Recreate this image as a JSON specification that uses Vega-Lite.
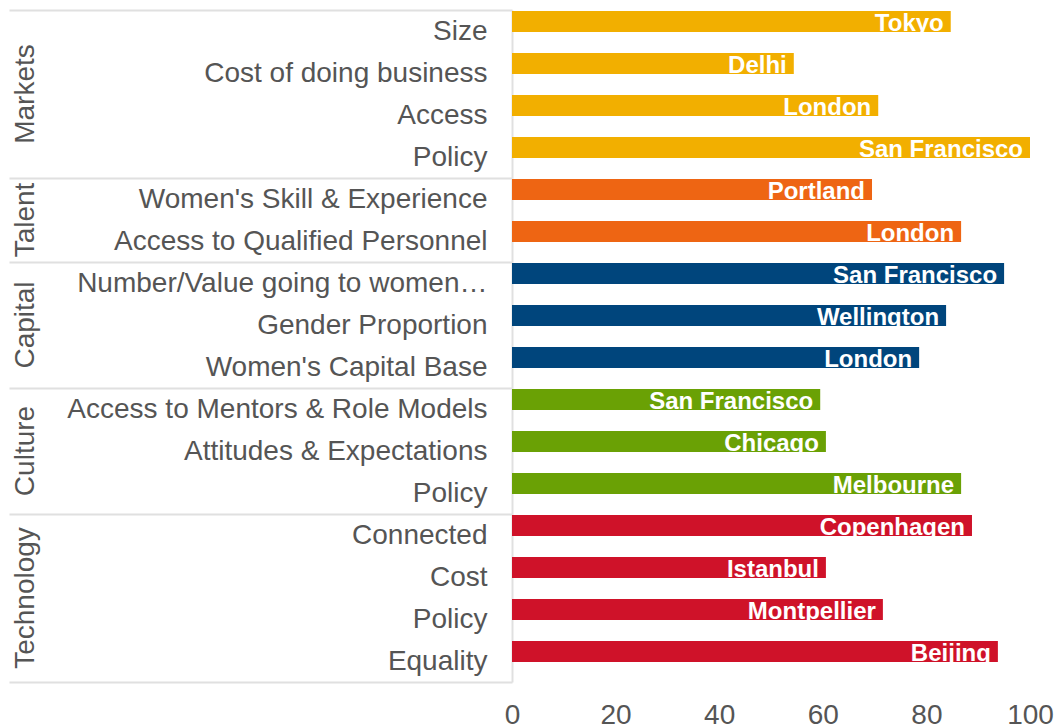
{
  "$schema": "https://vega.github.io/schema/vega-lite/v6.json",
  "padding": {"left": 8, "top": -4, "right": 0, "bottom": 0},
  "bounds": "flush",
  "data": {"values": [
    {"category": "Markets", "metric": "Size", "city": "Tokyo", "value": 84.7, "order": 1},
    {"category": "Markets", "metric": "Cost of doing business", "city": "Delhi", "value": 54.4, "order": 2},
    {"category": "Markets", "metric": "Access", "city": "London", "value": 70.7, "order": 3},
    {"category": "Markets", "metric": "Policy", "city": "San Francisco", "value": 100, "order": 4},
    {"category": "Talent", "metric": "Women's Skill & Experience", "city": "Portland", "value": 69.5, "order": 1},
    {"category": "Talent", "metric": "Access to Qualified Personnel", "city": "London", "value": 86.7, "order": 2},
    {"category": "Capital", "metric": "Number/Value going to women…", "city": "San Francisco", "value": 95.0, "order": 1},
    {"category": "Capital", "metric": "Gender Proportion", "city": "Wellington", "value": 83.8, "order": 2},
    {"category": "Capital", "metric": "Women's Capital Base", "city": "London", "value": 78.6, "order": 3},
    {"category": "Culture", "metric": "Access to Mentors & Role Models", "city": "San Francisco", "value": 59.5, "order": 1},
    {"category": "Culture", "metric": "Attitudes & Expectations", "city": "Chicago", "value": 60.6, "order": 2},
    {"category": "Culture", "metric": "Policy", "city": "Melbourne", "value": 86.7, "order": 3},
    {"category": "Technology", "metric": "Connected", "city": "Copenhagen", "value": 88.8, "order": 1},
    {"category": "Technology", "metric": "Cost", "city": "Istanbul", "value": 60.6, "order": 2},
    {"category": "Technology", "metric": "Policy", "city": "Montpellier", "value": 71.6, "order": 3},
    {"category": "Technology", "metric": "Equality", "city": "Beijing", "value": 93.8, "order": 4}
  ]},
  "facet": {
    "row": {
      "field": "category", "type": "nominal",
      "sort": ["Markets", "Talent", "Capital", "Culture", "Technology"],
      "title": null,
      "header": {
        "labelAngle": -90, "labelOrient": "left", "labelFontSize": 28,
        "labelColor": "#555555", "labelFont": "Liberation Sans",
        "labelPadding": 458, "labelAlign": "center"
      }
    }
  },
  "spacing": 0,
  "resolve": {"scale": {"y": "independent"}},
  "spec": {
    "width": 518,
    "height": {"step": 42},
    "layer": [
      {
        "mark": {"type": "bar", "height": 21, "yOffset": -9.5},
        "encoding": {
          "y": {
            "field": "metric", "type": "nominal",
            "sort": {"field": "order", "op": "min"},
            "scale": {"paddingInner": 0, "paddingOuter": 0},
            "axis": {
              "title": null, "grid": false,
              "domainColor": "#e0e0e0", "domainWidth": 2,
              "ticks": true, "tickBand": "extent", "tickSize": 503, "tickWidth": 2,
              "tickColor": {"condition": {"test": "datum.extra || datum.value === 'Equality'", "value": "#e0e0e0"}, "value": "transparent"},
              "labelFontSize": 28, "labelColor": "#555555", "labelFont": "Liberation Sans",
              "labelPadding": -478, "labelLimit": 600
            }
          },
          "x": {
            "field": "value", "type": "quantitative",
            "scale": {"domain": [0, 100], "nice": false},
            "axis": {
              "title": null, "values": [0, 20, 40, 60, 80, 100],
              "ticks": false, "domain": false, "grid": false,
              "labelFontSize": 28, "labelColor": "#555555", "labelFont": "Liberation Sans",
              "labelPadding": 19, "labelFlush": false
            }
          },
          "color": {
            "field": "category", "type": "nominal",
            "scale": {
              "domain": ["Markets", "Talent", "Capital", "Culture", "Technology"],
              "range": ["#F2AF00", "#EE6513", "#00457C", "#6AA105", "#CF1229"]
            },
            "legend": null
          }
        }
      },
      {
        "mark": {"type": "text", "align": "right", "baseline": "alphabetic", "dx": -7, "dy": 0,
                 "font": "Liberation Sans", "fontSize": 24, "fontWeight": "bold", "color": "#ffffff"},
        "encoding": {
          "y": {"field": "metric", "type": "nominal", "sort": {"field": "order", "op": "min"}},
          "x": {"field": "value", "type": "quantitative"},
          "text": {"field": "city", "type": "nominal"}
        }
      }
    ]
  },
  "config": {"view": {"stroke": null}}
}
